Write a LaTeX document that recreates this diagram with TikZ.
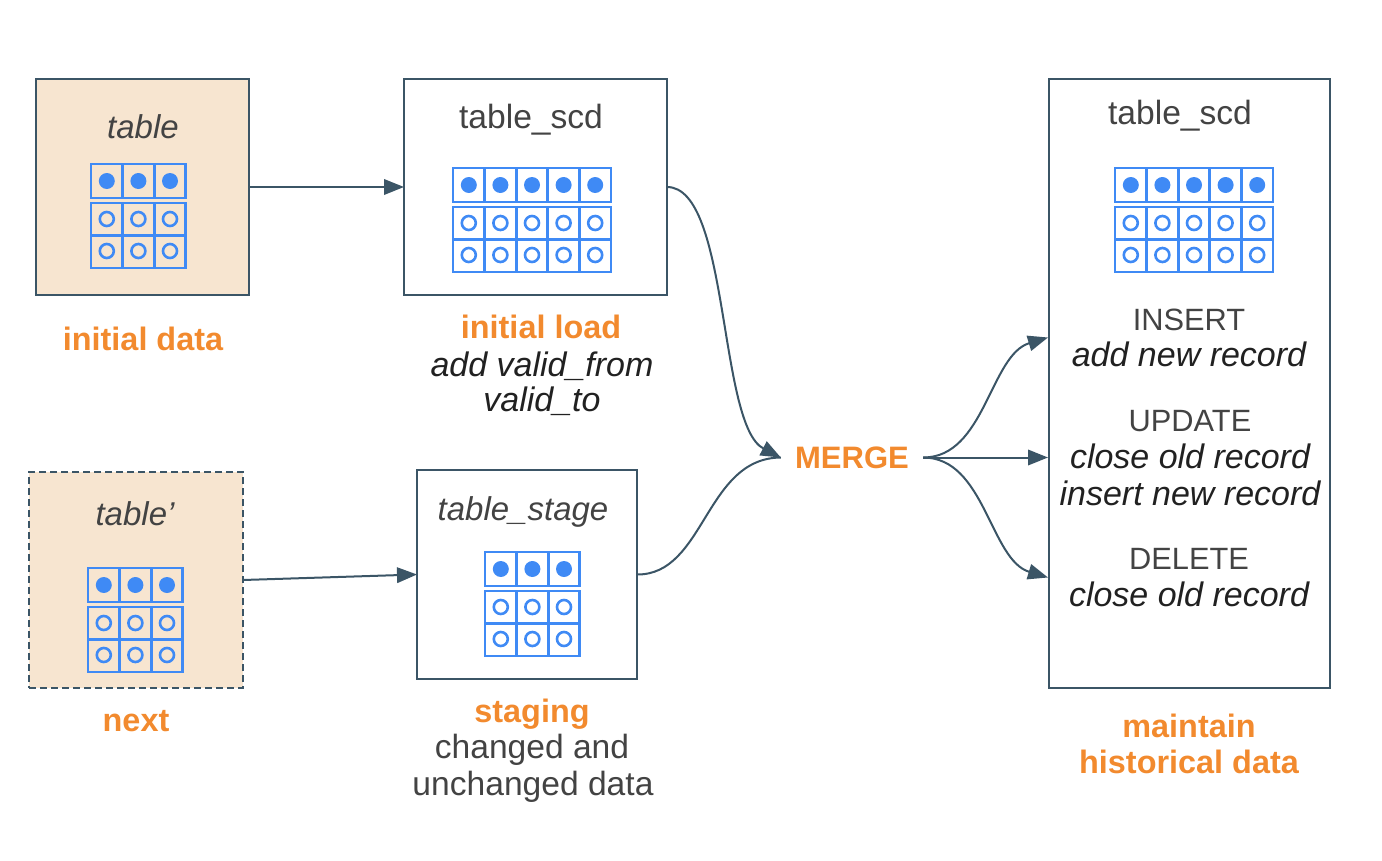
\documentclass[tikz,border=0pt]{standalone}
\usepackage{fontspec}
\setmainfont{Liberation Sans}
\usetikzlibrary{arrows.meta}
\definecolor{edge}{HTML}{3B5566}
\definecolor{peach}{HTML}{F7E5D0}
\definecolor{cellblue}{HTML}{3F8AF5}
\definecolor{accent}{HTML}{F28A2E}
\definecolor{ink}{HTML}{434343}
\definecolor{inkdark}{HTML}{212121}
\tikzset{
  x=1pt,y=-1pt,
  boxnode/.style={draw=edge,line width=1.8pt,rectangle,inner sep=0pt,outer sep=0pt},
  srcbox/.style={boxnode,fill=peach},
  wire/.style={draw=edge,line width=2pt},
  conn/.style={wire,-{Triangle[length=20pt,width=15.5pt]}},
  lab/.style={anchor=base,inner sep=0pt,font=\fontsize{33.6}{33.6}\selectfont,text=ink},
  labcap/.style={lab,font=\fontsize{30.8}{30.8}\selectfont},
  labit/.style={lab,font=\fontsize{34}{34}\selectfont\itshape,text=inkdark},
  labhead/.style={lab,font=\fontsize{33}{33}\selectfont\itshape,text=ink},
  labor/.style={lab,font=\fontsize{32.4}{32.4}\selectfont\bfseries,text=accent},
  gridline/.style={draw=cellblue,line width=2.8pt},
}
% \tablegrid{left}{top}{columns}
\newcommand{\tablegrid}[3]{%
  \pgfmathsetmacro{\gw}{31.6*#3}%
  \draw[gridline] (#1,#2) rectangle ++(\gw,34);
  \draw[gridline] (#1,#2+39) rectangle ++(\gw,65);
  \draw[gridline] (#1,#2+71.5) -- ++(\gw,0);
  \foreach \c in {1,...,#3}{%
    \pgfmathsetmacro{\cx}{#1+31.6*(\c-0.5)}%
    \ifnum\c<#3
      \draw[gridline] (#1+31.6*\c,#2) -- ++(0,34);
      \draw[gridline] (#1+31.6*\c,#2+39) -- ++(0,65);
    \fi
    \fill[cellblue] (\cx,#2+17) circle[radius=8];
    \draw[cellblue,line width=2.6pt] (\cx,#2+55) circle[radius=7];
    \draw[cellblue,line width=2.6pt] (\cx,#2+87) circle[radius=7];
  }%
}
\begin{document}
\begin{tikzpicture}
\useasboundingbox (0,0) rectangle (1382,860);
% boxes
\node[srcbox,minimum width=213pt,minimum height=216pt] (src) at (142.5,187) {};
\node[boxnode,minimum width=263pt,minimum height=216pt] (scd) at (535.5,187) {};
\node[boxnode,minimum width=281pt,minimum height=609pt] (hist) at (1189.5,383.5) {};
\node[srcbox,dashed,dash pattern=on 7pt off 4pt,minimum width=214pt,minimum height=216pt] (next) at (136,580) {};
\node[boxnode,minimum width=220pt,minimum height=209pt] (stage) at (527,574.5) {};
% grids
\tablegrid{91}{164}{3}
\tablegrid{453}{168}{5}
\tablegrid{1115}{168}{5}
\tablegrid{88}{568}{3}
\tablegrid{485}{552}{3}
% merge
\node[anchor=center,inner sep=0pt,minimum width=142pt,minimum height=30pt,font=\fontsize{31}{31}\selectfont\bfseries,text=accent] (merge) at (852,457.5) {MERGE};
\coordinate (hi) at (1048,337.5);
\coordinate (hm) at (1048,457.5);
\coordinate (hd) at (1048,577.5);
% connectors
\draw[conn] (src.east) -- (scd.west);
\draw[conn] (next.east) -- (stage.west);
\draw[conn] (scd.east) .. controls (730,187) and (718,425) .. (merge.west);
\draw[wire] (stage.east) .. controls (705,575) and (705,458) .. (merge.west);
\draw[conn] (merge.east) .. controls (985,457.5) and (990,355) .. (hi);
\draw[conn] (merge.east) -- (hm);
\draw[conn] (merge.east) .. controls (985,457.5) and (990,560) .. (hd);
% labels
\node[labhead] (t1) at (143,138) {table};
\node[lab] (t2) at (531,128) {table\_scd};
\node[lab] (t3) at (1180,124) {table\_scd};
\node[labhead] (t4) at (135,525) {table’};
\node[labhead] (t5) at (523,520) {table\_stage};
\node[labor] (l1) at (143,350) {initial data};
\node[labor] (l2) at (541,338) {initial load};
\node[labit] (l3) at (542,376) {add valid\_from};
\node[labit] (l4) at (542,411) {valid\_to};
\node[labor] (l5) at (136,731) {next};
\node[labor] (l6) at (532,722) {staging};
\node[lab] (l7) at (532,758) {changed and};
\node[lab] (l8) at (533,795) {unchanged data};
\node[labor] (l9) at (1189,737) {maintain};
\node[labor] (l10) at (1189,773) {historical data};
\node[labcap] (a1) at (1189,330) {INSERT};
\node[labit] (a2) at (1189,366) {add new record};
\node[labcap] (a3) at (1190,431) {UPDATE};
\node[labit] (a4) at (1190,468) {close old record};
\node[labit] (a5) at (1190,505) {insert new record};
\node[labcap] (a6) at (1189,569) {DELETE};
\node[labit] (a7) at (1189,606) {close old record};
\end{tikzpicture}
\end{document}
